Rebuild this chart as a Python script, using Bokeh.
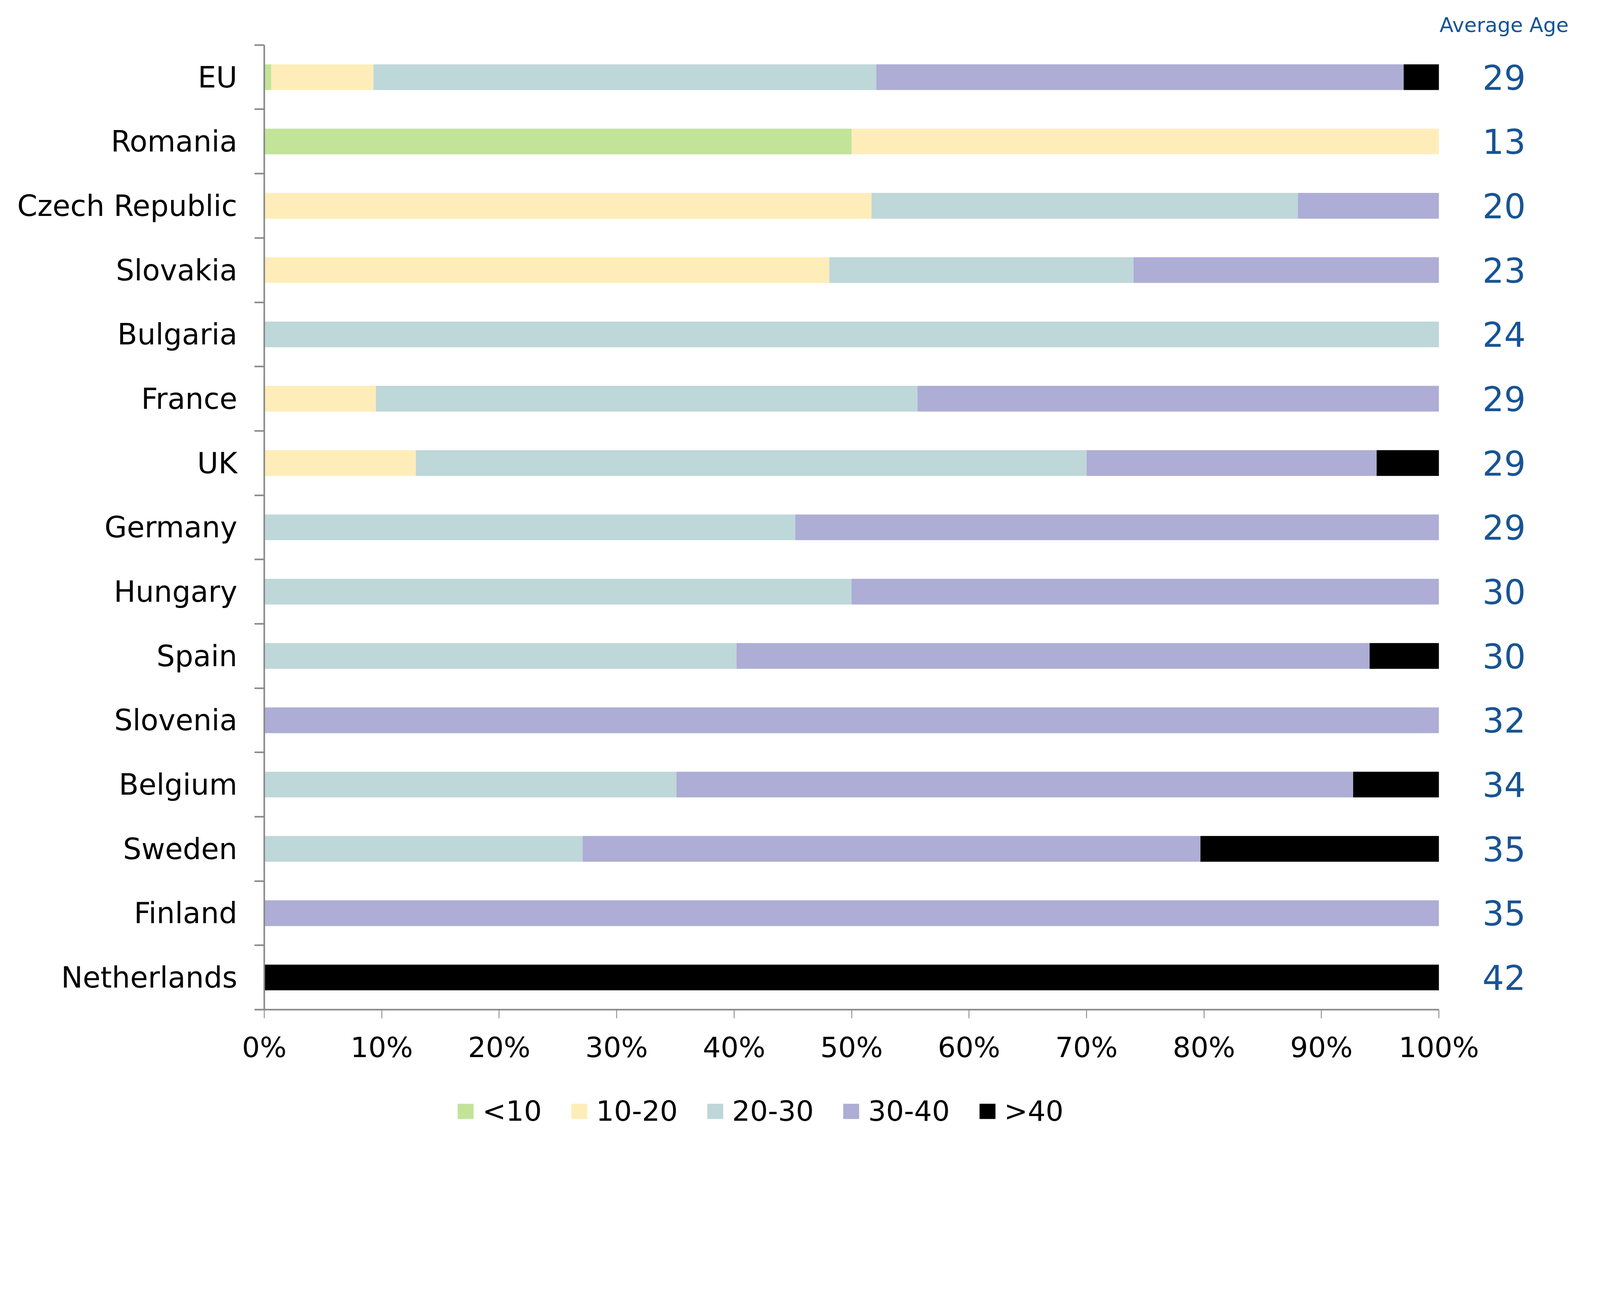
from bokeh.plotting import figure
from bokeh.layouts import column
from bokeh.models import (ColumnDataSource, FixedTicker, NumeralTickFormatter, LabelSet,
                          Label, Legend, LegendItem, Range1d)
from bokeh.core.properties import value
from bokeh.embed import file_html
from bokeh.resources import INLINE

countries = ["EU", "Romania", "Czech Republic", "Slovakia", "Bulgaria", "France", "UK",
             "Germany", "Hungary", "Spain", "Slovenia", "Belgium", "Sweden", "Finland",
             "Netherlands"]
groups = ["<10", "10-20", "20-30", "30-40", ">40"]
lt10    = [0.6, 50.0, 0.0, 0.0, 0.0, 0.0, 0.0, 0.0, 0.0, 0.0, 0.0, 0.0, 0.0, 0.0, 0.0]
g10_20  = [8.7, 50.0, 51.7, 48.1, 0.0, 9.5, 12.9, 0.0, 0.0, 0.0, 0.0, 0.0, 0.0, 0.0, 0.0]
g20_30  = [42.8, 0.0, 36.3, 25.9, 100.0, 46.1, 57.1, 45.2, 50.0, 40.2, 0.0, 35.1, 27.1, 0.0, 0.0]
g30_40  = [44.9, 0.0, 12.0, 26.0, 0.0, 44.4, 24.7, 54.8, 50.0, 53.9, 100.0, 57.6, 52.6, 100.0, 0.0]
gt40    = [3.0, 0.0, 0.0, 0.0, 0.0, 0.0, 5.3, 0.0, 0.0, 5.9, 0.0, 7.3, 20.3, 0.0, 100.0]
avg_age = [29, 13, 20, 23, 24, 29, 29, 29, 30, 30, 32, 34, 35, 35, 42]

colors = ["#C2E499", "#FFEDB9", "#BED7D9", "#ADADD5", "#000000"]
BLUE = "#185494"
GREY = "#888888"
FONT = "DejaVu Sans"

n = len(countries)
ypos = [n - 0.5 - i for i in range(n)]
series = [lt10, g10_20, g20_30, g30_40, gt40]
data = {"y": ypos, "country": countries, "age": [str(a) for a in avg_age]}
keys = ["s%d" % i for i in range(len(groups))]
for k, s in zip(keys, series):
    data[k] = [v / 100.0 for v in s]
src = ColumnDataSource(data)

W = 4090
# main chart: the frame extends beyond 100% / the top row so the average-age column sits in it
p = figure(width=W, height=2735, output_backend="svg", toolbar_location=None,
           x_range=Range1d(0, 1.13), y_range=Range1d(0, n + 0.6),
           min_border_left=676, min_border_right=16, min_border_top=16, min_border_bottom=150)
p.outline_line_color = None
p.xgrid.grid_line_color = None
p.ygrid.grid_line_color = None

p.hbar_stack(keys, y="y", height=0.4, fill_color=colors, line_color=None, source=src)

xa = p.xaxis[0]
xa.bounds = (0, 1)
xa.ticker = FixedTicker(ticks=[i / 10 for i in range(11)])
xa.formatter = NumeralTickFormatter(format="0%")
xa.axis_line_color = GREY
xa.axis_line_width = 4
xa.major_tick_line_color = GREY
xa.major_tick_line_width = 2.2
xa.major_tick_out = 22
xa.major_tick_in = 0
xa.minor_tick_line_color = None
xa.major_label_text_font = FONT
xa.major_label_text_font_size = "72px"
xa.major_label_text_color = "black"
xa.major_label_standoff = 32

ya = p.yaxis[0]
ya.bounds = (0, n)
ya.ticker = FixedTicker(ticks=ypos, minor_ticks=list(range(n + 1)))
ya.major_label_overrides = {y: c for y, c in zip(ypos, countries)}
ya.axis_line_color = GREY
ya.axis_line_width = 4
ya.major_tick_line_color = None
ya.major_tick_out = 0
ya.major_tick_in = 0
ya.minor_tick_line_color = GREY
ya.minor_tick_line_width = 4
ya.minor_tick_out = 25
ya.minor_tick_in = 0
ya.major_label_text_font = FONT
ya.major_label_text_font_size = "74px"
ya.major_label_text_color = "black"
ya.major_label_standoff = 44

ages = LabelSet(x=1.0555, y="y", text="age", source=src, text_align="center",
                text_baseline="middle", text_font=value(FONT), text_font_size="87px",
                text_color=BLUE)
p.add_layout(ages)
p.add_layout(Label(x=1.0555, y=n + 0.31, text="Average Age", text_align="center",
                   text_baseline="middle", text_font=FONT, text_font_size="52px",
                   text_color=BLUE))

# legend strip below the chart (its renderers lie outside this strip's visible range)
lg = figure(width=W, height=211, output_backend="svg", toolbar_location=None,
            x_range=Range1d(0, 1), y_range=Range1d(100, 101), x_axis_type=None, y_axis_type=None,
            min_border_left=0, min_border_right=0, min_border_top=0, min_border_bottom=0)
lg.outline_line_color = None
lg.xgrid.grid_line_color = None
lg.ygrid.grid_line_color = None
swatches = lg.hbar_stack(keys, y="y", height=0.4, fill_color=colors, line_color=None, source=src)
legend = Legend(items=[LegendItem(label=value(g), renderers=[r]) for g, r in zip(groups, swatches)],
                orientation="horizontal", location=(490, 59))
legend.label_text_font = FONT
legend.label_text_font_size = "72px"
legend.label_text_color = "black"
legend.glyph_width = 51
legend.glyph_height = 49
legend.label_standoff = 18
legend.spacing = 70
legend.padding = 0
legend.margin = 0
legend.border_line_color = None
legend.background_fill_alpha = 0
lg.add_layout(legend, "center")

layout = column(p, lg, spacing=0)
open("out.html", "w").write(file_html(layout, INLINE))
